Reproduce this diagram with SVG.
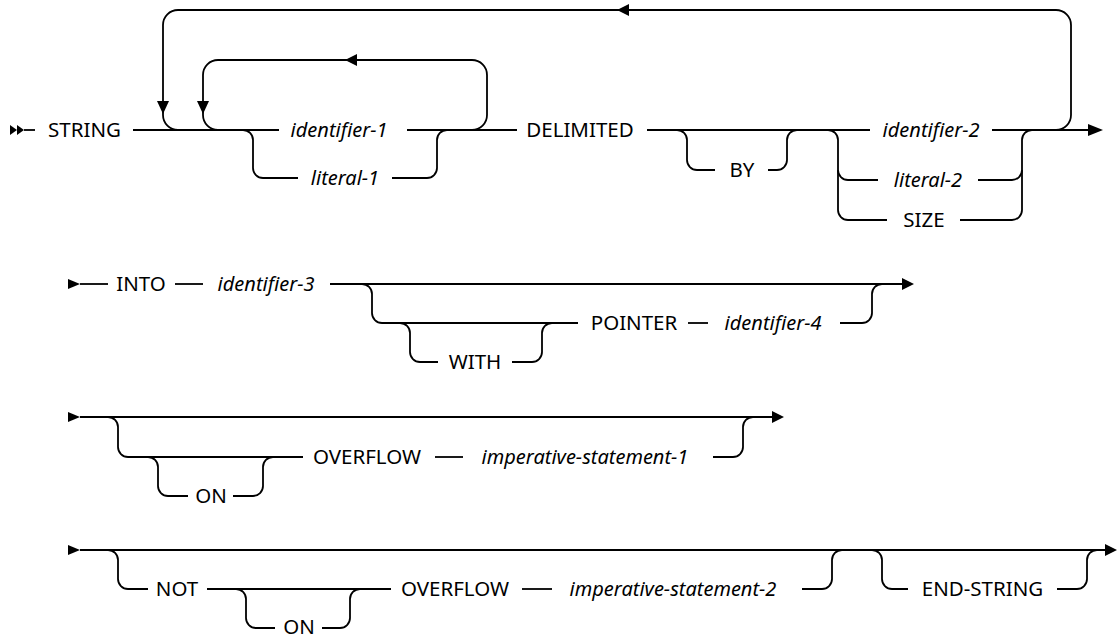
<svg xmlns="http://www.w3.org/2000/svg" width="1117" height="637" viewBox="0 0 1117 637">
<style>
.ln{fill:none;stroke:#000;stroke-width:1.8}
.ah{fill:#000;stroke:none}
.kw{font-family:"Noto Sans","Liberation Sans",sans-serif;font-size:20.5px;fill:#000;text-anchor:middle}
.var{font-family:"Noto Sans","Liberation Sans",sans-serif;font-size:20px;font-style:italic;fill:#000;text-anchor:middle}
</style>
<rect width="1117" height="637" fill="#fff"/>
<g id="connectors">
  <!-- Row 1 -->
  <polygon class="ah" points="10,125 17,130 10,135"/>
  <polygon class="ah" points="17,125 24,130 17,135"/>
  <path class="ln" d="M24 130 L35 130"/>
  <path class="ln" d="M133 130 L279 130"/>
  <path class="ln" d="M178 130 A15 15 0 0 1 163 115 L163 25 A15 15 0 0 1 178 10 L1056 10 A15 15 0 0 1 1071 25 L1071 115 A15 15 0 0 1 1056 130"/>
  <polygon class="ah" points="157,101 169,101 163,114"/>
  <polygon class="ah" points="617,10 629,4 629,16"/>
  <path class="ln" d="M218 130 A15 15 0 0 1 203 115 L203 75 A15 15 0 0 1 218 60 L472 60 A15 15 0 0 1 487 75 L487 115 A15 15 0 0 1 472 130"/>
  <polygon class="ah" points="197,101 209,101 203,114"/>
  <polygon class="ah" points="345,60 357,54 357,66"/>
  <path class="ln" d="M243 130 A10 10 0 0 1 253 140 L253 168 A10 10 0 0 0 263 178 L298 178"/>
  <path class="ln" d="M392 178 L427 178 A10 10 0 0 0 437 168 L437 140 A10 10 0 0 1 447 130"/>
  <path class="ln" d="M407 130 L517 130"/>
  <path class="ln" d="M647 130 L870 130"/>
  <path class="ln" d="M677 130 A10 10 0 0 1 687 140 L687 160 A10 10 0 0 0 697 170 L715 170"/>
  <path class="ln" d="M768 170 L777 170 A10 10 0 0 0 787 160 L787 140 A10 10 0 0 1 797 130"/>
  <path class="ln" d="M828 130 A10 10 0 0 1 838 140 L838 210 A10 10 0 0 0 848 220 L887 220"/>
  <path class="ln" d="M838 170 A10 10 0 0 0 848 180 L878 180"/>
  <path class="ln" d="M978 180 L1012 180 A10 10 0 0 0 1022 170"/>
  <path class="ln" d="M960 220 L1012 220 A10 10 0 0 0 1022 210 L1022 140 A10 10 0 0 1 1032 130"/>
  <path class="ln" d="M992 130 L1088 130"/>
  <polygon class="ah" points="1088,124 1103,130 1088,136"/>
  <!-- Row 2 -->
  <polygon class="ah" points="68,279 80,284 68,289"/>
  <path class="ln" d="M80 284 L108 284"/>
  <path class="ln" d="M175 284 L203 284"/>
  <path class="ln" d="M330 284 L902 284"/>
  <polygon class="ah" points="902,278 914,284 902,290"/>
  <path class="ln" d="M362 284 A10 10 0 0 1 372 294 L372 313 A10 10 0 0 0 382 323 L578 323"/>
  <path class="ln" d="M400 323 A10 10 0 0 1 410 333 L410 352 A10 10 0 0 0 420 362 L438 362"/>
  <path class="ln" d="M512 362 L532 362 A10 10 0 0 0 542 352 L542 333 A10 10 0 0 1 552 323"/>
  <path class="ln" d="M688 323 L708 323"/>
  <path class="ln" d="M840 323 L862 323 A10 10 0 0 0 872 313 L872 294 A10 10 0 0 1 882 284"/>
  <!-- Row 3 -->
  <polygon class="ah" points="68,412 80,417 68,422"/>
  <path class="ln" d="M80 417 L772 417"/>
  <polygon class="ah" points="772,411 784,417 772,423"/>
  <path class="ln" d="M108 417 A10 10 0 0 1 118 427 L118 447 A10 10 0 0 0 128 457 L303 457"/>
  <path class="ln" d="M148 457 A10 10 0 0 1 158 467 L158 486 A10 10 0 0 0 168 496 L188 496"/>
  <path class="ln" d="M233 496 L253 496 A10 10 0 0 0 263 486 L263 467 A10 10 0 0 1 273 457"/>
  <path class="ln" d="M435 457 L463 457"/>
  <path class="ln" d="M713 457 L733 457 A10 10 0 0 0 743 447 L743 427 A10 10 0 0 1 753 417"/>
  <!-- Row 4 -->
  <polygon class="ah" points="68,545 80,550 68,555"/>
  <path class="ln" d="M80 550 L1105 550"/>
  <polygon class="ah" points="1105,544 1117,550 1105,556"/>
  <path class="ln" d="M108 550 A10 10 0 0 1 118 560 L118 579 A10 10 0 0 0 128 589 L148 589"/>
  <path class="ln" d="M207 589 L391 589"/>
  <path class="ln" d="M236 589 A10 10 0 0 1 246 599 L246 618 A10 10 0 0 0 256 628 L275 628"/>
  <path class="ln" d="M322 628 L340 628 A10 10 0 0 0 350 618 L350 599 A10 10 0 0 1 360 589"/>
  <path class="ln" d="M522 589 L552 589"/>
  <path class="ln" d="M802 589 L822 589 A10 10 0 0 0 832 579 L832 560 A10 10 0 0 1 842 550"/>
  <path class="ln" d="M872 550 A10 10 0 0 1 882 560 L882 579 A10 10 0 0 0 892 589 L908 589"/>
  <path class="ln" d="M1057 589 L1077 589 A10 10 0 0 0 1087 579 L1087 560 A10 10 0 0 1 1097 550"/>
</g>
<g id="n-string"><text class="kw" x="84.5" y="137">STRING</text></g>
<g id="n-identifier-1"><text class="var" x="339" y="137">identifier-1</text></g>
<g id="n-literal-1"><text class="var" x="345" y="185">literal-1</text></g>
<g id="n-delimited"><text class="kw" x="580" y="137">DELIMITED</text></g>
<g id="n-by"><text class="kw" x="742" y="177">BY</text></g>
<g id="n-identifier-2"><text class="var" x="931" y="137">identifier-2</text></g>
<g id="n-literal-2"><text class="var" x="928" y="187">literal-2</text></g>
<g id="n-size"><text class="kw" x="924" y="227">SIZE</text></g>
<g id="n-into"><text class="kw" x="141" y="291">INTO</text></g>
<g id="n-identifier-3"><text class="var" x="266" y="291">identifier-3</text></g>
<g id="n-with"><text class="kw" x="475" y="369">WITH</text></g>
<g id="n-pointer"><text class="kw" x="634" y="330">POINTER</text></g>
<g id="n-identifier-4"><text class="var" x="773" y="330">identifier-4</text></g>
<g id="n-on-1"><text class="kw" x="211" y="503">ON</text></g>
<g id="n-overflow-1"><text class="kw" x="367" y="464">OVERFLOW</text></g>
<g id="n-imperative-1"><text class="var" x="585" y="464">imperative-statement-1</text></g>
<g id="n-not"><text class="kw" x="177" y="596">NOT</text></g>
<g id="n-on-2"><text class="kw" x="299" y="634">ON</text></g>
<g id="n-overflow-2"><text class="kw" x="455" y="596">OVERFLOW</text></g>
<g id="n-imperative-2"><text class="var" x="673" y="596">imperative-statement-2</text></g>
<g id="n-end-string"><text class="kw" x="982.5" y="596">END-STRING</text></g>
</svg>
